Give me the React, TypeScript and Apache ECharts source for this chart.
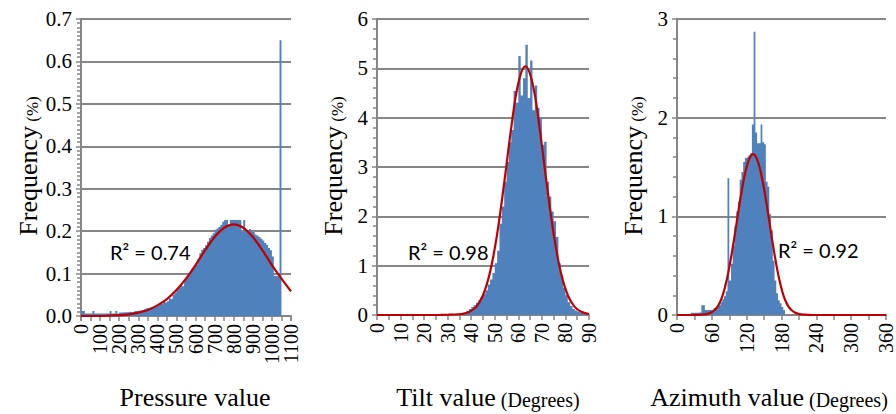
import { useEffect, useRef } from "react";
import * as echarts from "echarts";

// Histogram bins (frequency in %), one value per bin
const pressureBinStart = 0;
const pressureBinWidth = 10;
const pressureFreq = [
  0.012, 0.012, 0.006, 0.006, 0.006, 0.006, 0.012, 0.006, 0.006, 0.006,
  0.006, 0.006, 0.006, 0.006, 0.006, 0.012, 0.006, 0.006, 0.012, 0.006,
  0.008, 0.008, 0.009, 0.009, 0.009, 0.010, 0.009, 0.010, 0.012, 0.012,
  0.013, 0.012, 0.014, 0.016, 0.018, 0.018, 0.020, 0.020, 0.022, 0.022,
  0.024, 0.030, 0.028, 0.034, 0.032, 0.035, 0.042, 0.040, 0.050, 0.055,
  0.061, 0.066, 0.073, 0.070, 0.086, 0.091, 0.100, 0.105, 0.113, 0.116,
  0.120, 0.135, 0.148, 0.156, 0.160, 0.167, 0.175, 0.184, 0.190, 0.195,
  0.203, 0.206, 0.210, 0.215, 0.222, 0.226, 0.226, 0.212, 0.226, 0.226,
  0.226, 0.226, 0.226, 0.226, 0.198, 0.226, 0.202, 0.200, 0.205, 0.198,
  0.198, 0.192, 0.190, 0.186, 0.182, 0.178, 0.172, 0.168, 0.160, 0.155,
  0.140, 0.095, 0.094, 0.093, 0.650,
];

const tiltBinStart = 35;
const tiltBinWidth = 1;
const tiltFreq = [
  0.04, 0.04, 0.05, 0.08, 0.12, 0.16, 0.2, 0.25, 0.3, 0.36,
  0.42, 0.5, 0.62, 0.72, 0.85, 1.05, 1.3, 1.85, 2.2, 2.7,
  3.1, 3.5, 3.75, 4.54, 4.3, 5.25, 4.45, 4.8, 5.48, 4.4,
  5.16, 4.15, 4.65, 4.2, 4.0, 3.45, 3.51, 2.7, 2.4, 2.1,
  1.9, 1.58, 1.05, 0.8, 0.55, 0.4, 0.26, 0.18, 0.12, 0.09,
  0.07, 0.05, 0.04, 0.03,
];

const azimuthBinStart = 24;
const azimuthBinWidth = 3;
const azimuthFreq = [
  0.023, 0.023, 0.023, 0.023, 0.025, 0.025, 0.1, 0.1, 0.05, 0.05,
  0.05, 0.05, 0.055, 0.07, 0.075, 0.085, 0.1, 0.13, 0.16, 0.19,
  0.24, 1.385, 0.35, 0.52, 0.7, 0.9, 1.05, 1.15, 1.37, 1.45,
  1.55, 1.59, 1.6, 1.62, 1.64, 1.93, 2.87, 1.85, 1.74, 1.74,
  1.93, 1.75, 1.73, 1.35, 1.3, 1.02, 0.86, 0.55, 0.35, 0.22,
  0.15, 0.12, 0.08, 0.05,
];

// Fitted normal curves
const pressureFitX = [
  0, 50, 100, 150, 200, 250, 300, 350, 400, 450, 500, 550,
  600, 650, 700, 750, 800, 850, 900, 950, 1000, 1050, 1100,
];
const pressureFitY = [
  0, 0, 0, 0.001, 0.002, 0.004, 0.008, 0.014, 0.025, 0.04, 0.061, 0.088,
  0.12, 0.155, 0.186, 0.208, 0.216, 0.208, 0.186, 0.155, 0.12, 0.088, 0.058,
];

const tiltFitX = [
  0, 10, 20, 27, 30, 33, 36, 39, 42, 45, 48, 51, 54, 57, 60,
  63, 66, 69, 72, 75, 78, 81, 84, 87, 90,
];
const tiltFitY = [
  0, 0, 0, 0.002, 0.005, 0.01, 0.02, 0.06, 0.16, 0.4, 0.87, 1.64, 2.68, 3.8, 4.7,
  5.04, 4.7, 3.8, 2.68, 1.64, 0.87, 0.4, 0.16, 0.06, 0.02,
];

const azimuthFitX = [
  0, 20, 35, 41, 47, 53, 59, 65, 71, 77, 83, 89, 95, 101, 107, 113, 119, 125,
  131, 137, 143, 149, 155, 161, 167, 173, 179, 185, 191, 197, 203, 209, 215,
  221, 230, 260, 300, 360,
];
const azimuthFitY = [
  0, 0, 0.001, 0.003, 0.006, 0.012, 0.025, 0.05, 0.095, 0.17, 0.29, 0.45, 0.65,
  0.87, 1.1, 1.31, 1.48, 1.59, 1.63, 1.59, 1.48, 1.31, 1.1, 0.87, 0.65, 0.45,
  0.29, 0.17, 0.095, 0.05, 0.025, 0.012, 0.006, 0.003, 0.001, 0, 0, 0,
];

const r2Labels = ["R\u00b2 = 0.74", "R\u00b2 = 0.98", "R\u00b2 = 0.92"];

const BAR_BLUE = "#4F81BD";
const FIT_RED = "#C00000";
const AXIS_GRAY = "#868686";
const SERIF = "'Liberation Serif', 'Times New Roman', serif";

function histogramSteps(start: number, width: number, freq: number[]) {
  const pts = freq.map((v, i) => [start + i * width, v]);
  pts.push([start + freq.length * width, 0]);
  return pts;
}

function zip(xs: number[], ys: number[]) {
  return xs.map((x, i) => [x, ys[i]]);
}

const xLabelStyle = {
  rotate: 90,
  margin: 8,
  color: "#000",
  fontFamily: SERIF,
  fontSize: 20,
  hideOverlap: false,
  formatter: (v: number) => String(Math.round(v)),
};

function xAxisFor(gridIndex: number, max: number, interval: number, edgeLabels = true) {
  return {
    type: "value",
    gridIndex,
    min: 0,
    max,
    interval,
    axisLine: { show: true, lineStyle: { color: AXIS_GRAY, width: 2 } },
    axisTick: { show: true, length: 5, lineStyle: { color: AXIS_GRAY, width: 1.5 } },
    minorTick: { show: true, splitNumber: 2, length: 5, lineStyle: { color: AXIS_GRAY, width: 1.5 } },
    splitLine: { show: false },
    axisLabel: {
      ...xLabelStyle,
      showMinLabel: edgeLabels,
      showMaxLabel: edgeLabels,
    },
  };
}

// Second bottom axis carrying only the end labels (0 and max) of a crowded axis
function xEdgeAxisFor(gridIndex: number, max: number) {
  return {
    type: "value",
    gridIndex,
    position: "bottom",
    min: 0,
    max,
    interval: max,
    axisLine: { show: false },
    axisTick: { show: true, length: 5, lineStyle: { color: AXIS_GRAY, width: 1.5 } },
    minorTick: { show: false },
    splitLine: { show: false },
    axisLabel: { ...xLabelStyle, showMinLabel: true, showMaxLabel: true },
  };
}

function yAxisFor(
  gridIndex: number,
  max: number,
  interval: number,
  minorSplit: number,
  fmt: (v: number) => string
) {
  return {
    type: "value",
    gridIndex,
    min: 0,
    max,
    interval,
    axisLine: { show: true, lineStyle: { color: AXIS_GRAY, width: 2 } },
    axisTick: { show: true, length: 5, lineStyle: { color: AXIS_GRAY, width: 1.5 } },
    minorTick: {
      show: true,
      splitNumber: minorSplit,
      length: 4,
      lineStyle: { color: AXIS_GRAY, width: 1.5 },
    },
    splitLine: { show: true, lineStyle: { color: AXIS_GRAY, width: 2 } },
    axisLabel: {
      margin: 9,
      color: "#000",
      fontFamily: SERIF,
      fontSize: 21,
      showMinLabel: true,
      showMaxLabel: true,
      hideOverlap: false,
      formatter: fmt,
    },
  };
}

function histSeries(idx: number, data: number[][]) {
  return {
    type: "line",
    xAxisIndex: idx,
    yAxisIndex: idx,
    step: "end",
    data,
    symbol: "none",
    lineStyle: { width: 0, color: BAR_BLUE },
    areaStyle: { color: BAR_BLUE, opacity: 1 },
    z: 2,
    silent: true,
  };
}

function fitSeries(idx: number, data: number[][]) {
  return {
    type: "line",
    xAxisIndex: idx,
    yAxisIndex: idx,
    data,
    symbol: "none",
    smooth: 0.4,
    lineStyle: { width: 2.2, color: FIT_RED },
    z: 3,
    silent: true,
  };
}

function richPart(size: number) {
  return {
    fontFamily: SERIF,
    fontSize: size,
    lineHeight: size,
    color: "#000",
    verticalAlign: "bottom",
  };
}

function yTitle(x: number) {
  return {
    type: "text",
    x,
    y: 166,
    rotation: Math.PI / 2,
    style: {
      text: "{a|Frequency}{s| }{b|(%)}",
      rich: { a: richPart(26), s: richPart(17), b: richPart(17) },
      textAlign: "center",
      textVerticalAlign: "middle",
    },
  };
}

function xTitle(x: number, main: string, unit: string | null) {
  return {
    type: "text",
    x,
    y: 397,
    style: {
      text: unit ? `{a|${main}}{s| }{b|${unit}}` : `{a|${main}}`,
      rich: { a: richPart(26), s: richPart(20), b: richPart(20) },
      textAlign: "center",
      textVerticalAlign: "middle",
    },
  };
}

function r2Text(x: number, y: number, text: string) {
  return {
    type: "text",
    x,
    y,
    style: {
      text,
      font: "20px Lato, 'Open Sans', sans-serif",
      fill: "#000",
      textAlign: "left",
      textVerticalAlign: "middle",
    },
  };
}

export default function App() {
  const ref = useRef<HTMLDivElement>(null);

  useEffect(() => {
    if (!ref.current) return;
    const chart = echarts.init(ref.current, undefined, { renderer: "svg" });
    chart.setOption({
      animation: false,
      backgroundColor: "#fff",
      grid: [
        { left: 81, top: 19, width: 210, height: 297 },
        { left: 377, top: 19, width: 212, height: 296 },
        { left: 677, top: 19, width: 210, height: 296 },
      ],
      xAxis: [
        xAxisFor(0, 1100, 100, false),
        xAxisFor(1, 90, 10),
        xAxisFor(2, 360, 60),
        xEdgeAxisFor(0, 1100),
      ],
      yAxis: [
        yAxisFor(0, 0.7, 0.1, 10, (v: number) => v.toFixed(1)),
        yAxisFor(1, 6, 1, 5, (v: number) => String(Math.round(v))),
        yAxisFor(2, 3, 1, 5, (v: number) => String(Math.round(v))),
      ],
      series: [
        histSeries(0, histogramSteps(pressureBinStart, pressureBinWidth, pressureFreq)),
        histSeries(1, histogramSteps(tiltBinStart, tiltBinWidth, tiltFreq)),
        histSeries(2, histogramSteps(azimuthBinStart, azimuthBinWidth, azimuthFreq)),
        fitSeries(0, zip(pressureFitX, pressureFitY)),
        fitSeries(1, zip(tiltFitX, tiltFitY)),
        fitSeries(2, zip(azimuthFitX, azimuthFitY)),
      ],
      graphic: [
        yTitle(28),
        yTitle(333),
        yTitle(633),
        xTitle(195, "Pressure value", null),
        xTitle(488, "Tilt value", "(Degrees)"),
        xTitle(769, "Azimuth value", "(Degrees)"),
        r2Text(110, 252, r2Labels[0]),
        r2Text(408, 252, r2Labels[1]),
        r2Text(778, 250, r2Labels[2]),
      ],
    });
    return () => chart.dispose();
  }, []);

  return (
    <div
      ref={ref}
      style={{ position: "fixed", left: 0, top: 0, width: 896, height: 414 }}
    />
  );
}
